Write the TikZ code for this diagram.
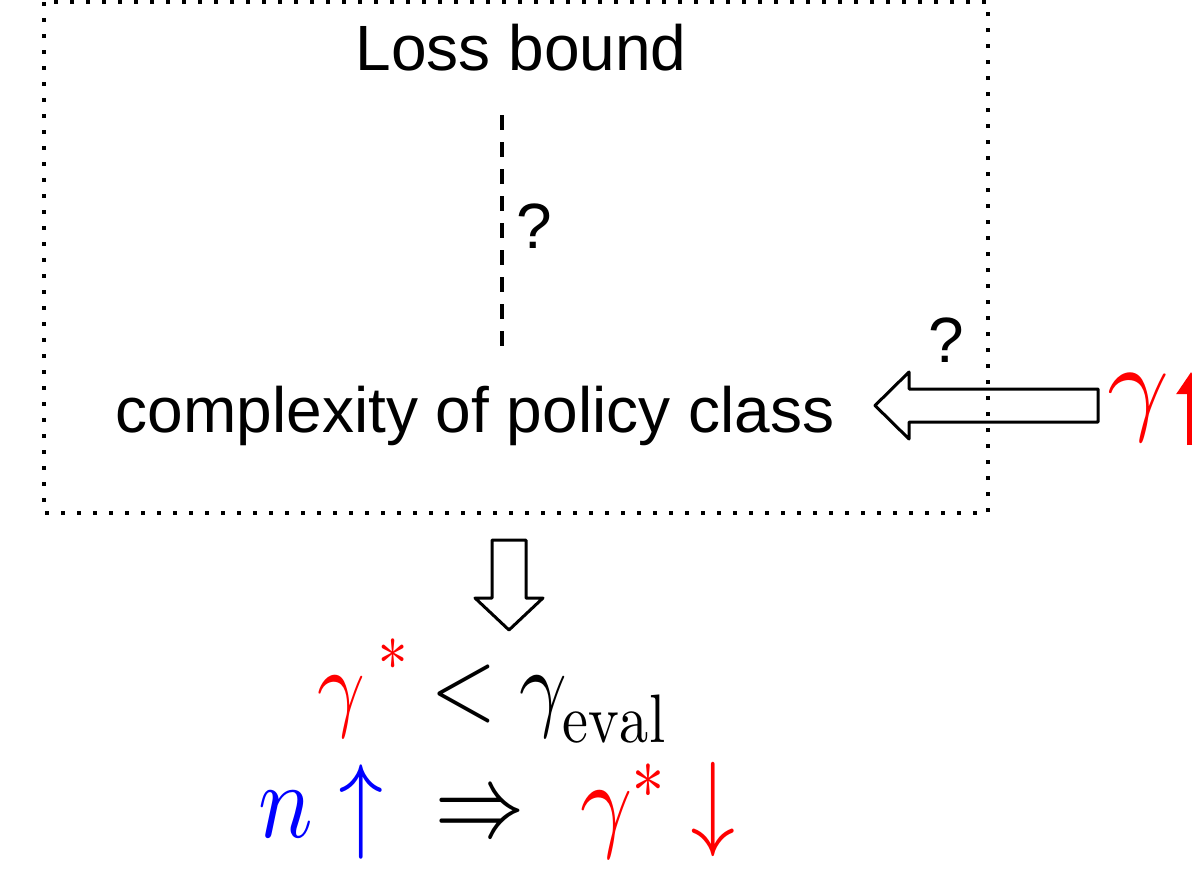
\documentclass[tikz,border=0pt]{standalone}
\usepackage{fontspec}
\usepackage{unicode-math}
\setmainfont{Liberation Sans}
\setmathfont{Latin Modern Math}
\usetikzlibrary{arrows.meta}
\begin{document}
\begin{tikzpicture}[x=1pt,y=-1pt,
  lbl/.style={font=\fontsize{64}{70}\selectfont, anchor=base, inner sep=0pt},
  blockarrow/.style={draw, line width=3pt, line join=round},
  frame/.style={line width=4pt, dash pattern=on 4pt off 12pt},
  dashline/.style={line width=3.5pt, dash pattern=on 15pt off 12pt},
  eqn/.style={anchor=base, inner sep=0pt}]
\useasboundingbox (0,0) rectangle (1192,873);
\draw[frame] (44,2) rectangle (988,513);
\node[lbl] (loss) at (521,70) {Loss bound};
\node[lbl] (cplx) at (475,432) {complexity of policy class};
\coordinate (dtop) at (502,115);
\coordinate (dbot) at (502,355);
\draw[dashline] (dtop) -- (dbot);
\node[lbl] (q1) at (534,248) {?};
\node[lbl] (q2) at (946,362) {?};
% left block arrow
\coordinate (la) at (1098,389);
\coordinate (lb) at (909,389);
\coordinate (lc) at (909,372);
\coordinate (ltip) at (875,405.5);
\coordinate (ld) at (909,439);
\coordinate (le) at (909,422);
\coordinate (lf) at (1098,422);
\draw[blockarrow] (la) -- (lb) -- (lc) -- (ltip) -- (ld) -- (le) -- (lf) -- cycle;
% down block arrow
\coordinate (da) at (492,540);
\coordinate (db) at (526,540);
\coordinate (dc) at (526,598);
\coordinate (dd) at (543,598);
\coordinate (dtip) at (509,630);
\coordinate (de) at (475,598);
\coordinate (df) at (492,598);
\draw[blockarrow] (da) -- (db) -- (dc) -- (dd) -- (dtip) -- (de) -- (df) -- cycle;
\node[eqn, anchor=base west, text=red] (gam) at (1107,420) {\fontsize{108}{120}\selectfont$\gamma$};
\coordinate (ua) at (1191,445);
\coordinate (ub) at (1191,372);
\draw[red, line width=9pt, -{Triangle[length=22pt,width=28pt]}] (ua) -- (ub);
\node[eqn] (eq1) at (492,718) {\fontsize{98}{100}\selectfont\scalebox{0.85}[1]{$\color{red}\gamma^{\mkern4mu\raisebox{0.12em}{$\scriptstyle\ast$}}\color{black}<\gamma_{\symup{eval}}$}};
\node[eqn] (eq2) at (497,837) {\fontsize{107}{120}\selectfont\scalebox{0.85}[1]{$\color{blue}n\uparrow\mkern10mu\color{black}\Rightarrow\mkern6mu\color{red}\gamma^{\ast}\downarrow$}};
\end{tikzpicture}
\end{document}
